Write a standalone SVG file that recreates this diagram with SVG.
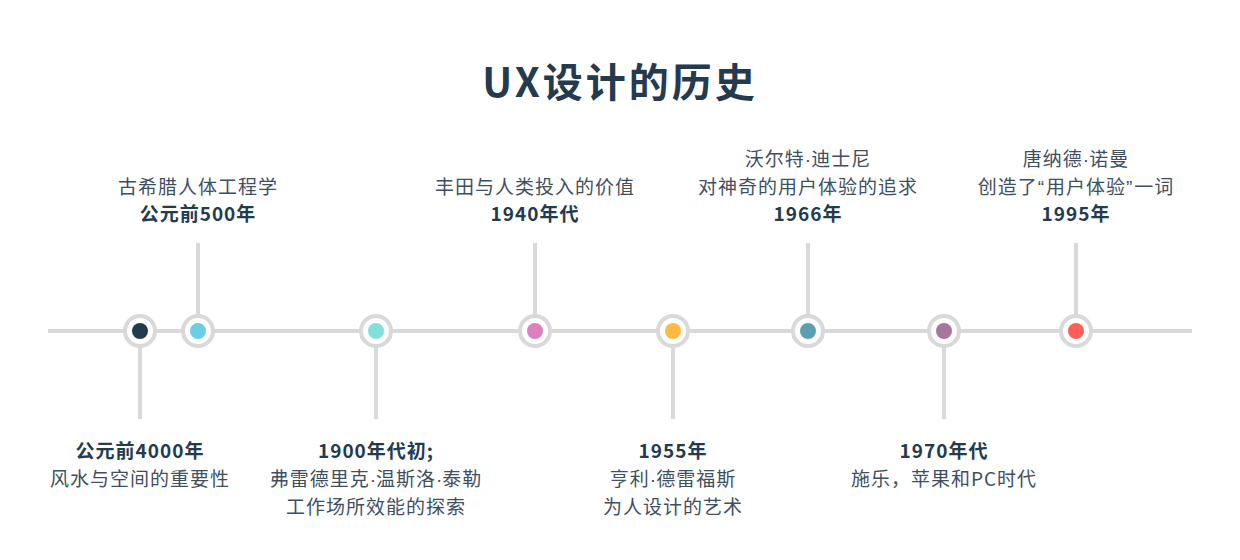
<svg xmlns="http://www.w3.org/2000/svg" width="1240" height="560" viewBox="0 0 1240 560">
<style>
.ln{stroke:#d9d9d9;stroke-width:4;fill:none}
.ring{fill:#fff;stroke:#d9d9d9;stroke-width:4}
.t{font-family:"Noto Sans CJK SC","Noto Sans",sans-serif;font-size:19px;letter-spacing:1px;fill:#3f4f5f;text-anchor:middle}
.b{font-weight:bold;fill:#243a4e}
.d{font-family:"Liberation Sans",sans-serif;letter-spacing:0}
.q{font-family:"Liberation Sans",sans-serif;letter-spacing:2px}
.title{font-family:"Noto Sans CJK SC","Noto Sans",sans-serif;font-size:40px;font-weight:bold;fill:#243a4e;text-anchor:middle;letter-spacing:3px}
</style>
<rect width="1240" height="560" fill="#fff"/>
<text class="title" x="620" y="97">UX设计的历史</text>
<g id="connectors">
<line class="ln" x1="48" y1="331" x2="1192" y2="331"/>
<line class="ln" x1="140" y1="331" x2="140" y2="419"/>
<line class="ln" x1="198" y1="243" x2="198" y2="331"/>
<line class="ln" x1="376" y1="331" x2="376" y2="419"/>
<line class="ln" x1="535" y1="243" x2="535" y2="331"/>
<line class="ln" x1="673" y1="331" x2="673" y2="419"/>
<line class="ln" x1="808" y1="243" x2="808" y2="331"/>
<line class="ln" x1="944" y1="331" x2="944" y2="419"/>
<line class="ln" x1="1076" y1="243" x2="1076" y2="331"/>
</g>
<g id="n1">
<circle class="ring" cx="140" cy="331" r="15"/><circle cx="140" cy="331" r="8" fill="#233b4f"/>
<text class="t b" x="140" y="458">公元前4000年</text>
<text class="t" x="140" y="486">风水与空间的重要性</text>
</g>
<g id="n2">
<circle class="ring" cx="198" cy="331" r="15"/><circle cx="198" cy="331" r="8" fill="#6ccde6"/>
<text class="t" x="198" y="194">古希腊人体工程学</text>
<text class="t b" x="198" y="221">公元前500年</text>
</g>
<g id="n3">
<circle class="ring" cx="376" cy="331" r="15"/><circle cx="376" cy="331" r="8" fill="#82e0da"/>
<text class="t b" x="376" y="458">1900年代初;</text>
<text class="t" x="376" y="486">弗雷德里克<tspan class="d">·</tspan>温斯洛<tspan class="d">·</tspan>泰勒</text>
<text class="t" x="376" y="514">工作场所效能的探索</text>
</g>
<g id="n4">
<circle class="ring" cx="535" cy="331" r="15"/><circle cx="535" cy="331" r="8" fill="#dc80c0"/>
<text class="t" x="535" y="194">丰田与人类投入的价值</text>
<text class="t b" x="535" y="221">1940年代</text>
</g>
<g id="n5">
<circle class="ring" cx="673" cy="331" r="15"/><circle cx="673" cy="331" r="8" fill="#ffb944"/>
<text class="t b" x="673" y="458">1955年</text>
<text class="t" x="673" y="486">亨利<tspan class="d">·</tspan>德雷福斯</text>
<text class="t" x="673" y="514">为人设计的艺术</text>
</g>
<g id="n6">
<circle class="ring" cx="808" cy="331" r="15"/><circle cx="808" cy="331" r="8" fill="#5aa0b0"/>
<text class="t" x="808" y="166">沃尔特<tspan class="d">·</tspan>迪士尼</text>
<text class="t" x="808" y="194">对神奇的用户体验的追求</text>
<text class="t b" x="808" y="221">1966年</text>
</g>
<g id="n7">
<circle class="ring" cx="944" cy="331" r="15"/><circle cx="944" cy="331" r="8" fill="#a8759c"/>
<text class="t b" x="944" y="458">1970年代</text>
<text class="t" x="944" y="486">施乐，苹果和PC时代</text>
</g>
<g id="n8">
<circle class="ring" cx="1076" cy="331" r="15"/><circle cx="1076" cy="331" r="8" fill="#ff5f56"/>
<text class="t" x="1076" y="166">唐纳德<tspan class="d">·</tspan>诺曼</text>
<text class="t" x="1076" y="194">创造了<tspan class="q">“</tspan>用户体验<tspan class="q">”</tspan>一词</text>
<text class="t b" x="1076" y="221">1995年</text>
</g>
</svg>
